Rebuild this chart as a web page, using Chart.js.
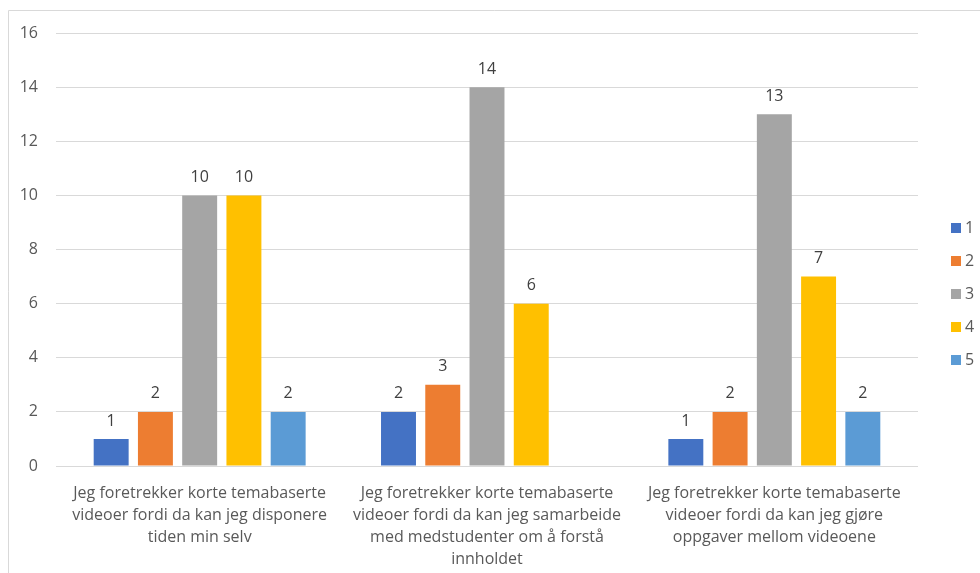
<!DOCTYPE html>
<html>
<head>
<meta charset="utf-8">
<script src="https://cdn.jsdelivr.net/npm/chart.js@4"></script>
<style>
  html, body { margin: 0; padding: 0; background: #fff; }
  #wrap { width: 980px; height: 573px; position: relative; }
</style>
</head>
<body>
<div id="wrap"><canvas id="chart" width="980" height="573"></canvas></div>
<script>
const categories = [
    ['Jeg foretrekker korte temabaserte', 'videoer fordi da kan jeg disponere', 'tiden min selv'],
    ['Jeg foretrekker korte temabaserte', 'videoer fordi da kan jeg samarbeide', 'med medstudenter om å forstå', 'innholdet'],
    ['Jeg foretrekker korte temabaserte', 'videoer fordi da kan jeg gjøre', 'oppgaver mellom videoene']
];
const seriesNames = ['1', '2', '3', '4', '5'];
const seriesColors = ['#4472C4', '#ED7D31', '#A5A5A5', '#FFC000', '#5B9BD5'];
const values1 = [1, 2, 1];
const values2 = [2, 3, 2];
const values3 = [10, 14, 13];
const values4 = [10, 6, 7];
const values5 = [2, null, 2];
const yTicks = [0, 2, 4, 6, 8, 10, 12, 14, 16];

const FONT = '"Open Sans", sans-serif';

// value labels above each bar
const barLabels = {
    id: 'barLabels',
    afterDatasetsDraw(chart) {
        const ctx = chart.ctx;
        ctx.save();
        ctx.font = '16px ' + FONT;
        ctx.fillStyle = '#404040';
        ctx.textAlign = 'center';
        ctx.textBaseline = 'middle';
        chart.data.datasets.forEach((ds, i) => {
            chart.getDatasetMeta(i).data.forEach((bar, j) => {
                const v = ds.data[j];
                if (v === null || v === undefined) return;
                ctx.fillText(String(v), bar.x, bar.y - 18);
            });
        });
        ctx.restore();
    }
};

// legend on the right plus the chart frame
const sideLegend = {
    id: 'sideLegend',
    afterDraw(chart) {
        const ctx = chart.ctx;
        ctx.save();
        ctx.strokeStyle = '#d9d9d9';
        ctx.lineWidth = 1;
        ctx.beginPath();
        ctx.moveTo(8.5, 573);
        ctx.lineTo(8.5, 10.5);
        ctx.lineTo(980, 10.5);
        ctx.stroke();

        ctx.font = '16px ' + FONT;
        ctx.textBaseline = 'middle';
        ctx.textAlign = 'left';
        const startY = 228, step = 33;
        chart.data.datasets.forEach((ds, i) => {
            const y = startY + i * step;
            ctx.fillStyle = ds.backgroundColor;
            ctx.fillRect(951, y - 5, 10, 10);
            ctx.fillStyle = '#595959';
            ctx.fillText(ds.label, 965, y);
        });
        ctx.restore();
    }
};

const allValues = [values1, values2, values3, values4, values5];

new Chart(document.getElementById('chart').getContext('2d'), {
    type: 'bar',
    data: {
        labels: categories,
        datasets: seriesNames.map((name, i) => ({
            label: name,
            data: allValues[i],
            backgroundColor: seriesColors[i],
            barPercentage: 0.79,
            categoryPercentage: 0.77
        }))
    },
    options: {
        responsive: false,
        animation: false,
        layout: { padding: { left: 8, right: 62, top: 33, bottom: 0 } },
        plugins: {
            legend: { display: false },
            tooltip: { enabled: false }
        },
        scales: {
            x: {
                grid: { display: false, drawTicks: false },
                border: { display: false },
                ticks: {
                    color: '#595959',
                    font: { family: FONT, size: 16, lineHeight: 1.375 },
                    padding: 16,
                    maxRotation: 0,
                    autoSkip: false
                },
                afterFit(scale) { scale.height = 107; }
            },
            y: {
                min: 0,
                max: 16,
                afterBuildTicks(scale) { scale.ticks = yTicks.map(v => ({ value: v })); },
                grid: { color: '#d9d9d9', drawTicks: false },
                border: { display: false },
                ticks: {
                    color: '#595959',
                    font: { family: FONT, size: 16 },
                    padding: 18
                },
                afterFit(scale) { scale.width = 48; }
            }
        }
    },
    plugins: [barLabels, sideLegend]
});
</script>
</body>
</html>
